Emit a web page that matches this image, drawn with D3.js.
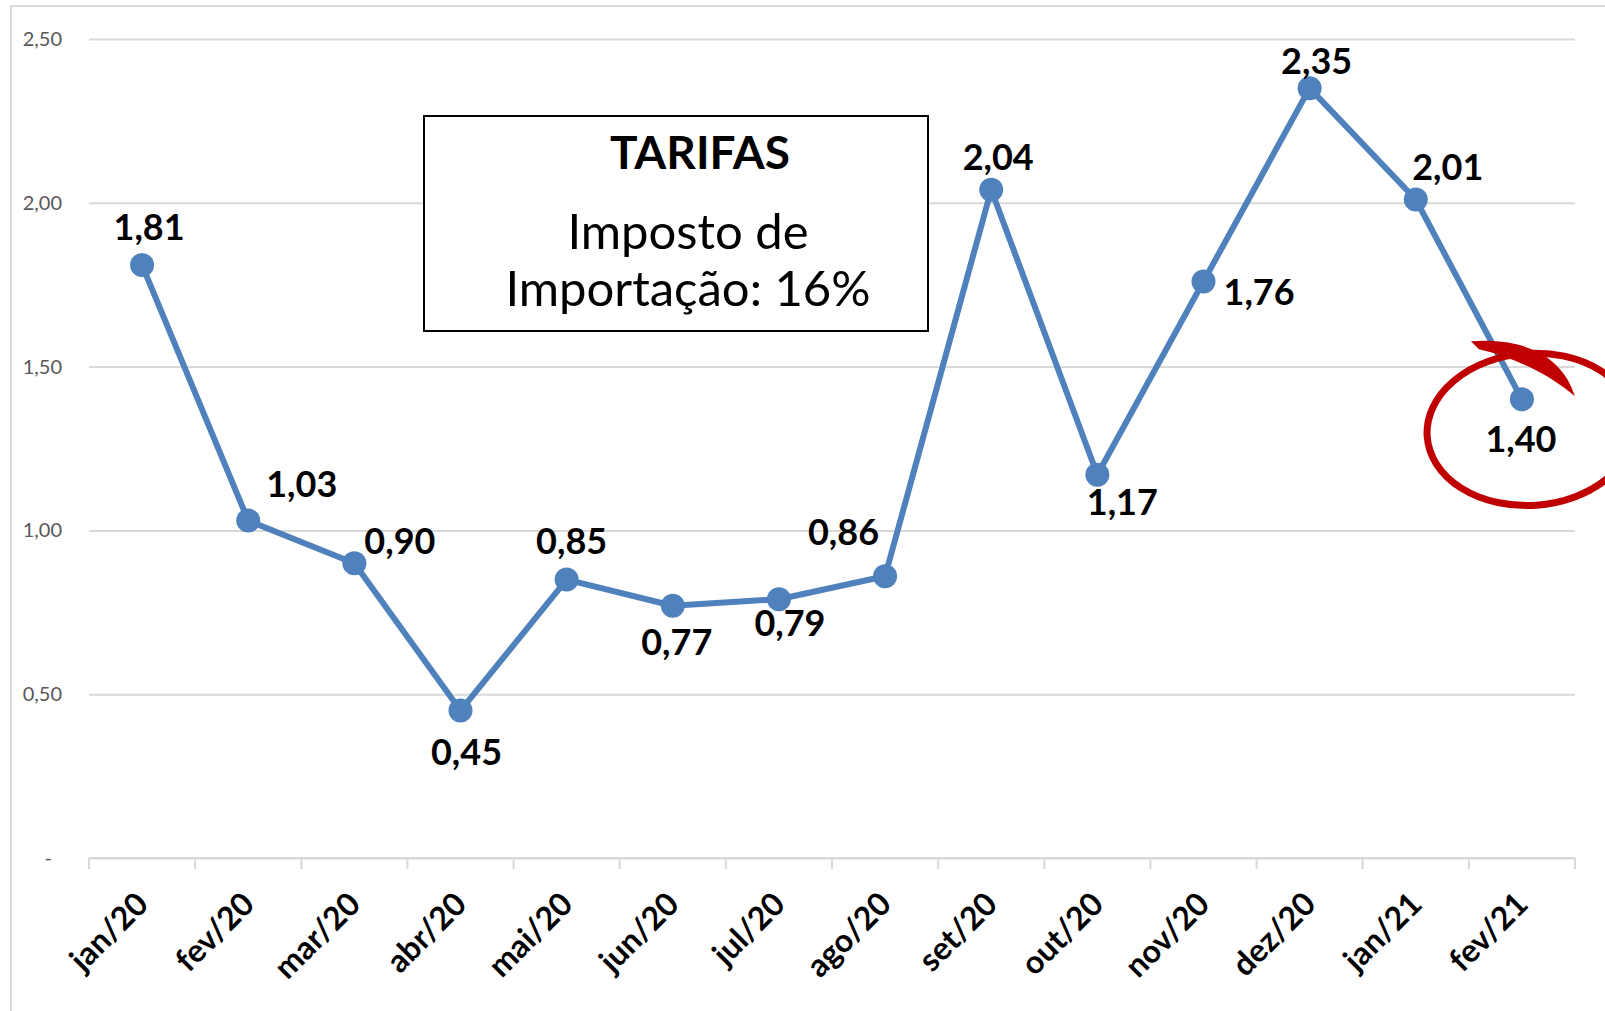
<!DOCTYPE html>
<html>
<head>
<meta charset="utf-8">
<script src="https://cdn.jsdelivr.net/npm/d3@7"></script>
<style>
  body { margin: 0; background: #fff; }
  text { font-family: Lato, "Open Sans", sans-serif; }
</style>
</head>
<body>
<svg class="chart"></svg>
<script>
// data
var months = ["jan/20","fev/20","mar/20","abr/20","mai/20","jun/20","jul/20",
              "ago/20","set/20","out/20","nov/20","dez/20","jan/21","fev/21"];
var tarifas = [1.81, 1.03, 0.90, 0.45, 0.85, 0.77, 0.79, 0.86, 2.04, 1.17, 1.76, 2.35, 2.01, 1.40];
var yTicks = [0, 0.5, 1, 1.5, 2, 2.5];
var boxTitle = "TARIFAS";
var boxLines = ["Imposto de", "Importação: 16%"];

var width = 1605, height = 1011;
var margin = {top: 39, right: 30, bottom: 153, left: 89};

var chart = d3.select(".chart")
    .attr("width", width)
    .attr("height", height);

// outer chart border
chart.append("rect")
    .attr("x", 11).attr("y", 6)
    .attr("width", width).attr("height", height)
    .attr("fill", "#fff")
    .attr("stroke", "#d9d9d9")
    .attr("stroke-width", 2);

var xScale = d3.scaleBand()
    .domain(months)
    .range([margin.left, width - margin.right]);

var yScale = d3.scaleLinear()
    .domain([0, 2.5])
    .range([height - margin.bottom, margin.top]);

var fmt = function(v){ return v.toFixed(2).replace(".", ","); };

// horizontal gridlines + y labels
var yAxis = chart.append("g")
    .attr("transform", "translate(" + margin.left + ",0)")
    .call(d3.axisLeft(yScale)
        .tickValues(yTicks)
        .tickSize(-(width - margin.left - margin.right))
        .tickPadding(27)
        .tickFormat(function(d){ return d === 0 ? "-" : fmt(d); }));
yAxis.select(".domain").remove();
yAxis.selectAll(".tick line")
    .attr("stroke", "#d9d9d9")
    .attr("stroke-width", 2);
yAxis.selectAll(".tick text")
    .attr("fill", "#595959")
    .style("font-size", "20px")
    .attr("dx", function(d){ return d === 0 ? -10 : 0; });

// category axis with boundary ticks
var y0 = yScale(0);
var xAxis = chart.append("g");
xAxis.append("line")
    .attr("x1", margin.left).attr("x2", width - margin.right)
    .attr("y1", y0).attr("y2", y0)
    .attr("stroke", "#d9d9d9").attr("stroke-width", 2);
xAxis.selectAll(".bound")
    .data(months.concat(["end"]))
    .enter().append("line")
    .attr("x1", function(d, i){ return margin.left + i * xScale.step(); })
    .attr("x2", function(d, i){ return margin.left + i * xScale.step(); })
    .attr("y1", y0).attr("y2", y0 + 11)
    .attr("stroke", "#d9d9d9").attr("stroke-width", 2);
xAxis.selectAll(".xlab")
    .data(months)
    .enter().append("text")
    .attr("transform", function(d){
        return "translate(" + (xScale(d) + xScale.bandwidth()/2 + 8) + "," + (y0 + 48) + ") rotate(-45)";
    })
    .attr("text-anchor", "end")
    .style("font-size", "32px")
    .style("font-weight", "bold")
    .attr("fill", "#000")
    .text(function(d){ return d; });

// text box
var box = chart.append("g");
box.append("rect")
    .attr("x", 424).attr("y", 116)
    .attr("width", 504).attr("height", 215)
    .attr("fill", "#fff")
    .attr("stroke", "#000")
    .attr("stroke-width", 2);
box.append("text")
    .attr("x", 700).attr("y", 169)
    .attr("text-anchor", "middle")
    .style("font-size", "46px")
    .style("font-weight", "bold")
    .text(boxTitle);
box.selectAll(".bl")
    .data(boxLines)
    .enter().append("text")
    .attr("x", 688)
    .attr("y", function(d, i){ return 249 + i * 57; })
    .attr("text-anchor", "middle")
    .style("font-size", "49px")
    .text(function(d){ return d; });

// line + markers
var pts = months.map(function(m, i){ return {m: m, v: tarifas[i]}; });
var cx = function(d){ return xScale(d.m) + xScale.bandwidth()/2; };
var cy = function(d){ return yScale(d.v); };

var line = d3.line().x(cx).y(cy);
chart.append("path")
    .datum(pts)
    .attr("d", line)
    .attr("fill", "none")
    .attr("stroke", "#4f81bd")
    .attr("stroke-width", 6)
    .attr("stroke-linejoin", "round");

chart.selectAll(".dot")
    .data(pts)
    .enter().append("circle")
    .attr("cx", cx).attr("cy", cy)
    .attr("r", 12)
    .attr("fill", "#4f81bd");

// data label placement: [dx, dy, anchor]
var labelPos = [
  [7, -25, "middle"], [18, -24, "start"], [10, -9, "start"], [6, 54, "middle"],
  [5, -26, "middle"], [4, 49, "middle"], [11, 37, "middle"], [-6, -31, "end"],
  [7, -20, "middle"], [25, 40, "middle"], [20, 24, "start"], [7, -14, "middle"],
  [32, -20, "middle"], [-1, 53, "middle"]
];
chart.selectAll(".lab")
    .data(pts)
    .enter().append("text")
    .attr("x", function(d, i){ return cx(d) + labelPos[i][0]; })
    .attr("y", function(d, i){ return cy(d) + labelPos[i][1]; })
    .attr("text-anchor", function(d, i){ return labelPos[i][2]; })
    .style("font-size", "36px")
    .style("font-weight", "bold")
    .text(function(d){ return fmt(d.v); });

// red hand-drawn circle round the last point
var last = pts[pts.length - 1];
var ex = cx(last) + 9, ey = cy(last) + 30;
var ring = chart.append("g").attr("transform", "translate(" + ex + "," + ey + ") rotate(-4)");
ring.append("ellipse")
    .attr("rx", 104).attr("ry", 76)
    .attr("fill", "none")
    .attr("stroke", "#c00000")
    .attr("stroke-width", 7);
chart.append("path")
    .attr("d", "M" + (ex - 60) + "," + (ey - 88) +
               " C" + (ex - 5) + "," + (ey - 92) + " " + (ex + 32) + "," + (ey - 72) + " " + (ex + 44) + "," + (ey - 33) +
               " C" + (ex + 22) + "," + (ey - 52) + " " + (ex - 10) + "," + (ey - 70) + " " + (ex - 52) + "," + (ey - 80) + " Z")
    .attr("fill", "#c00000");
</script>
</body>
</html>
